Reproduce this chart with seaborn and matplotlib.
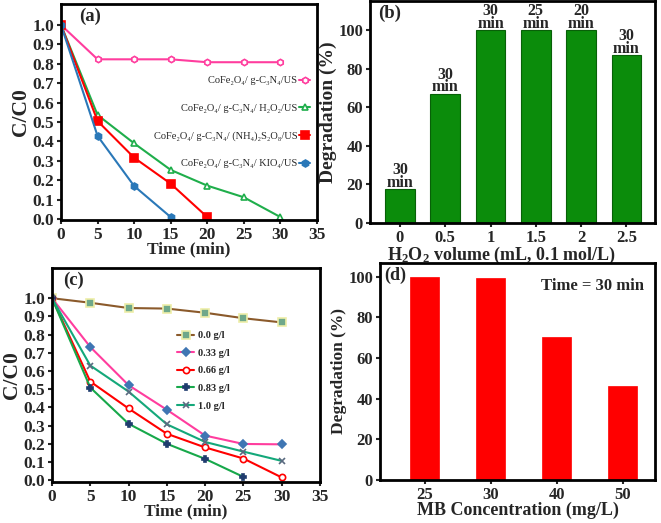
import numpy as np
import pandas as pd
import matplotlib
matplotlib.use("Agg")
import matplotlib.pyplot as plt
import seaborn as sns

sns.set_style("ticks")
plt.rcParams['font.family'] = ['Liberation Serif', 'DejaVu Serif']
plt.rcParams['font.weight'] = 'bold'
plt.rcParams['axes.labelweight'] = 'bold'
plt.rcParams['axes.linewidth'] = 2.0
plt.rcParams['mathtext.default'] = 'regular'

# ---------------- data ----------------
# (a) C/C0 vs time for different oxidants
time_a = [0, 5, 10, 15, 20, 25, 30]
a_us = [1.0, 0.823, 0.823, 0.823, 0.808, 0.808, 0.808]
a_h2o2 = [1.0, 0.536, 0.39, 0.253, 0.172, 0.112, 0.01]
time_a_ps = [0, 5, 10, 15, 20]
a_ps = [1.0, 0.505, 0.316, 0.182, 0.01]
time_a_kio4 = [0, 5, 10, 15]
a_kio4 = [1.0, 0.428, 0.17, 0.01]
labels_a = ["CoFe₂O₄/ g-C₃N₄/US", "CoFe₂O₄/ g-C₃N₄/ H₂O₂/US",
            "CoFe₂O₄/ g-C₃N₄/ (NH₄)₂S₂O₈/US", "CoFe₂O₄/ g-C₃N₄/ KIO₄/US"]

# (b) degradation vs H2O2 volume
h2o2_vol = ["0", "0.5", "1", "1.5", "2", "2.5"]
deg_b = [17.5, 67, 100, 100, 100, 87]
time_b = ["30", "30", "30", "25", "20", "30"]

# (c) C/C0 vs time for catalyst doses
time_c = [0, 5, 10, 15, 20, 25, 30]
c_00 = [1.0, 0.975, 0.946, 0.943, 0.92, 0.89, 0.867]
c_033 = [1.0, 0.732, 0.522, 0.387, 0.245, 0.199, 0.197]
c_066 = [1.0, 0.542, 0.394, 0.255, 0.18, 0.119, 0.015]
time_c_083 = [0, 5, 10, 15, 20, 25]
c_083 = [1.0, 0.509, 0.31, 0.20, 0.117, 0.018]
c_10 = [1.0, 0.63, 0.487, 0.307, 0.21, 0.157, 0.106]
labels_c = ["0.0 g/l", "0.33 g/l", "0.66 g/l", "0.83 g/l", "1.0 g/l"]

# (d) degradation vs MB concentration
mb_conc = ["25", "30", "40", "50"]
deg_d = [100, 99.2, 70.5, 46.4]

W, H = 661, 523
fig = plt.figure(figsize=(W / 100, H / 100), dpi=100)

def box(l, t, r, b):
    return [l / W, 1 - b / H, (r - l) / W, (b - t) / H]

axa = fig.add_axes(box(61, 4, 317, 220))
axb = fig.add_axes(box(370, 1, 655, 223))
axc = fig.add_axes(box(52, 268, 320, 482))
axd = fig.add_axes(box(380, 263, 655, 480))

tick_kw = dict(direction='out', length=3, width=1.5, pad=2)

# ---------------- (a) ----------------
series_a = [
    (time_a, a_us, '#ff3d9e', 'h', 'white', 4.5),
    (time_a, a_h2o2, '#1fae4b', '^', 'white', 5),
    (time_a_ps, a_ps, '#ff0000', 's', '#ff0000', 5.5),
    (time_a_kio4, a_kio4, '#2a78b8', 'h', '#2a78b8', 5),
]
for (x, y, col, mk, mfc, ms), lab in zip(series_a, labels_a):
    sns.lineplot(x=x, y=y, ax=axa, color=col, marker=mk, markersize=ms,
                 markerfacecolor=mfc, markeredgecolor=col, markeredgewidth=1.2,
                 linewidth=1.5, label=lab)
axa.set_xlim(0, 35)
axa.set_ylim(-0.005, 1.108)
axa.set_xticks(np.arange(0, 36, 5))
axa.set_yticks(np.round(np.arange(0, 1.01, 0.1), 1))
axa.set_yticklabels([f"{v:.1f}" for v in np.arange(0, 1.01, 0.1)])
axa.tick_params(labelsize=12.5, **tick_kw)
axa.set_xlabel("Time (min)", fontsize=12.5)
axa.xaxis.set_label_coords(0.5, -0.1)
axa.set_ylabel("C/C0", fontsize=15.5, labelpad=1)
axa.legend(loc='upper right', bbox_to_anchor=(1.0, 0.70), frameon=False,
           markerfirst=False, handlelength=1.0, handletextpad=0.2,
           labelspacing=1.75, borderpad=0.2, prop={'weight': 'normal', 'size': 7.5})
axa.text(0.07, 0.985, "(a)", transform=axa.transAxes, fontsize=13.5,
         fontweight='bold', va='top', ha='left')

# ---------------- (b) ----------------
sns.barplot(x=h2o2_vol, y=deg_b, order=h2o2_vol, ax=axb, color='#0b8c0b',
            saturation=1, width=0.66, edgecolor='#086008', linewidth=0.8)
for i, (v, t) in enumerate(zip(deg_b, time_b)):
    axb.text(i, v + 1.2, f"{t}\nmin", ha='center', va='baseline', fontsize=11.5,
             fontweight='bold', linespacing=0.72)
axb.set_xlim(-0.66, 5.63)
axb.set_ylim(0, 115)
axb.set_yticks([0, 20, 40, 60, 80, 100])
axb.tick_params(labelsize=12, **tick_kw)
axb.set_xlabel("H$_2$O$_2$ volume (mL, 0.1 mol/L)", fontsize=13)
axb.xaxis.set_label_coords(0.46, -0.097)
axb.set_ylabel("Degradation (%)", fontsize=14, labelpad=1)
axb.text(0.03, 0.985, "(b)", transform=axb.transAxes, fontsize=13.5,
         fontweight='bold', va='top', ha='left')

# ---------------- (c) ----------------
series_c = [
    (time_c, c_00, '#8b5a2b', 's', '#6fa88a', '#eeeea8', 6),
    (time_c, c_033, '#ff3d9e', 'D', '#3f76b3', '#3f76b3', 4.5),
    (time_c, c_066, '#ff0000', 'o', 'white', '#ff0000', 4.5),
    (time_c_083, c_083, '#17a84a', 'P', '#1f3c6e', '#1f3c6e', 5),
    (time_c, c_10, '#14a87a', 'x', '#5a6a80', '#5a6a80', 5),
]
for (x, y, col, mk, mfc, mec, ms), lab in zip(series_c, labels_c):
    sns.lineplot(x=x, y=y, ax=axc, color=col, marker=mk, markersize=ms,
                 markerfacecolor=mfc, markeredgecolor=mec, markeredgewidth=1.2,
                 linewidth=1.5, label=lab)
axc.set_xlim(0, 35)
axc.set_ylim(-0.01, 1.166)
axc.set_xticks(np.arange(0, 36, 5))
axc.set_yticks(np.round(np.arange(0, 1.01, 0.1), 1))
axc.set_yticklabels([f"{v:.1f}" for v in np.arange(0, 1.01, 0.1)])
axc.tick_params(labelsize=12.5, **tick_kw)
axc.set_xlabel("Time (min)", fontsize=12.5)
axc.xaxis.set_label_coords(0.5, -0.1)
axc.set_ylabel("C/C0", fontsize=15.5, labelpad=1)
axc.legend(loc='upper left', bbox_to_anchor=(0.44, 0.74), frameon=False,
           handlelength=1.6, handletextpad=0.4, labelspacing=0.8, borderpad=0.2,
           prop={'weight': 'bold', 'size': 7.5})
axc.text(0.04, 0.985, "(c)", transform=axc.transAxes, fontsize=13.5,
         fontweight='bold', va='top', ha='left')

# ---------------- (d) ----------------
sns.barplot(x=mb_conc, y=deg_d, order=mb_conc, ax=axd, color='#ff0000',
            saturation=1, width=0.44, edgecolor='#ff0000', linewidth=0.5)
axd.set_xlim(-0.68, 3.49)
axd.set_ylim(0, 106.7)
axd.set_yticks([0, 20, 40, 60, 80, 100])
axd.tick_params(labelsize=12, **tick_kw)
axd.set_xlabel("MB Concentration (mg/L)", fontsize=13)
axd.xaxis.set_label_coords(0.5, -0.1)
axd.set_ylabel("Degradation (%)", fontsize=12.5, labelpad=1)
axd.text(0.015, 0.985, "(d)", transform=axd.transAxes, fontsize=13,
         fontweight='bold', va='top', ha='left')
axd.text(0.96, 0.93, "Time = 30 min", transform=axd.transAxes, fontsize=12,
         fontweight='bold', va='top', ha='right')

for ax in (axa, axb, axc, axd):
    for s in ax.spines.values():
        s.set_visible(True)
        s.set_linewidth(2.0)
        s.set_color('black')

fig.savefig("out.png", dpi=100)
